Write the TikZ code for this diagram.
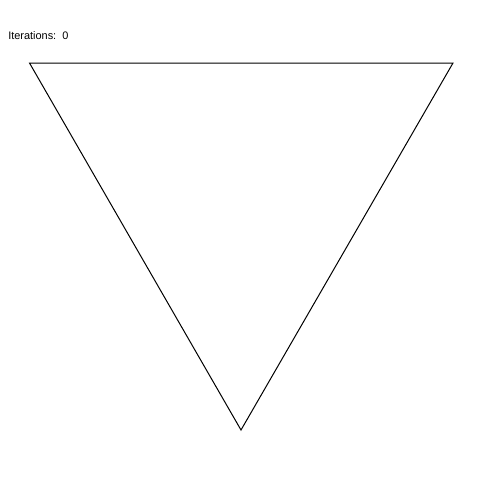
\documentclass[tikz,border=0pt]{standalone}
\usepackage{fontspec}
\setmainfont{Liberation Sans}
\begin{document}
\begin{tikzpicture}[x=0.75pt,y=-0.75pt,
  edge/.style={draw=black,line width=0.75pt},
  lbl/.style={font=\fontsize{8.2pt}{10pt}\selectfont,inner sep=0pt,anchor=base west}]
\useasboundingbox[fill=white] (0,0) rectangle (480,480);
\node[lbl] (title) at (8,39) {Iterations:\ \ 0};
\coordinate (A) at (29.5,63);
\coordinate (B) at (453,63);
\coordinate (C) at (241,430);
\draw[edge] (A) -- (B) -- (C) -- cycle;
\end{tikzpicture}
\end{document}
